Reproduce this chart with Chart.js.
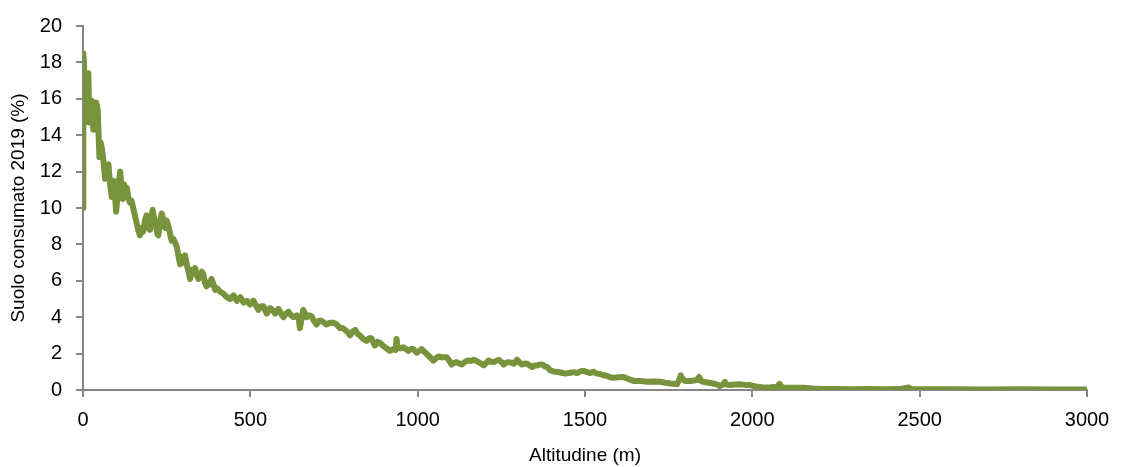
<!DOCTYPE html>
<html>
<head>
<meta charset="utf-8">
<script src="https://cdn.jsdelivr.net/npm/chart.js@4/dist/chart.umd.min.js"></script>
<style>
  html, body { margin: 0; padding: 0; background: #fff; }
  #grafico { display: block; }
</style>
</head>
<body>
<canvas id="grafico" width="1122" height="467"></canvas>
<script>
// --- DATI ---
const altitudini = [
  0, 1, 3, 6, 9, 13, 16, 19, 21, 26, 29, 31, 35, 39, 44, 47, 49, 53, 56, 61,
  66, 71, 76, 81, 86, 91, 95, 99, 103, 107, 111, 115, 119, 123, 127, 131, 136, 140, 145, 150,
  155, 160, 165, 170, 175, 180, 185, 190, 195, 200, 204, 208, 213, 218, 222, 225, 230, 235, 240, 245,
  250, 255, 260, 265, 270, 275, 280, 285, 290, 295, 300, 305, 310, 315, 320, 325, 330, 335, 340, 345,
  350, 355, 359, 364, 369, 374, 379, 384, 390, 395, 400, 410, 419, 430, 440, 450, 460, 470, 480, 490,
  499, 509, 518, 524, 532, 539, 549, 559, 566, 574, 584, 592, 599, 607, 614, 622, 629, 639, 645, 648,
  653, 658, 663, 668, 676, 683, 690, 698, 705, 713, 720, 728, 738, 748, 758, 768, 776, 783, 790, 798,
  805, 813, 820, 827, 838, 848, 855, 862, 872, 880, 887, 895, 902, 910, 917, 927, 934, 937, 940, 950,
  957, 965, 972, 980, 987, 997, 1005, 1012, 1020, 1027, 1037, 1047, 1055, 1062, 1070, 1077, 1087, 1095, 1101, 1110,
  1117, 1125, 1132, 1142, 1151, 1160, 1167, 1175, 1182, 1190, 1197, 1205, 1212, 1220, 1227, 1235, 1242, 1250, 1257, 1265,
  1272, 1280, 1287, 1292, 1297, 1305, 1312, 1320, 1327, 1335, 1342, 1350, 1357, 1365, 1372, 1380, 1387, 1395, 1401, 1410,
  1421, 1430, 1441, 1456, 1466, 1476, 1490, 1496, 1505, 1516, 1525, 1536, 1545, 1555, 1565, 1575, 1585, 1600, 1615, 1630,
  1645, 1665, 1685, 1705, 1725, 1740, 1755, 1775, 1781, 1786, 1792, 1798, 1818, 1835, 1841, 1847, 1853, 1870, 1883, 1895,
  1903, 1913, 1918, 1923, 1933, 1948, 1963, 1978, 1993, 2010, 2033, 2055, 2075, 2081, 2087, 2093, 2120, 2153, 2180, 2213,
  2250, 2300, 2350, 2400, 2440, 2466, 2475, 2520, 2600, 2700, 2800, 2900, 3000
];
const suoloConsumato = [
  10.0, 18.5, 18.0, 14.7, 15.3, 16.0, 17.4, 14.7, 15.2, 15.9, 14.8, 14.3, 15.2, 15.8, 15.4, 13.8, 12.8, 13.6, 13.3, 12.6,
  11.6, 12.2, 12.4, 11.3, 10.6, 11.5, 10.8, 9.8, 10.6, 11.4, 12.0, 11.2, 10.5, 11.3, 11.0, 11.1, 10.5, 10.3, 10.4, 10.0,
  9.6, 9.2, 8.8, 8.5, 8.9, 8.7, 9.3, 9.6, 9.0, 8.8, 9.4, 9.9, 9.4, 9.0, 8.6, 8.5, 9.2, 9.7, 9.4, 8.9,
  9.3, 9.0, 8.6, 8.2, 8.3, 8.1, 7.9, 7.4, 6.9, 7.3, 7.0, 7.4, 6.9, 6.5, 6.1, 6.6, 6.4, 6.7, 6.3, 6.1,
  6.3, 6.5, 6.4, 5.9, 5.7, 5.9, 5.8, 6.1, 5.8, 5.5, 5.6, 5.4, 5.3, 5.1, 5.0, 5.2, 4.9, 5.1, 4.8, 4.9,
  4.7, 4.9, 4.6, 4.4, 4.6, 4.6, 4.2, 4.5, 4.4, 4.2, 4.45, 4.2, 4.0, 4.2, 4.3, 4.1, 4.0, 4.1, 3.9, 3.4,
  3.9, 4.4, 4.2, 4.0, 4.1, 4.05, 3.8, 3.6, 3.8, 3.8, 3.7, 3.6, 3.7, 3.7, 3.6, 3.4, 3.4, 3.3, 3.2, 3.0,
  3.2, 3.3, 3.1, 3.0, 2.8, 2.7, 2.85, 2.85, 2.45, 2.65, 2.6, 2.45, 2.35, 2.25, 2.15, 2.25, 2.2, 2.8, 2.3, 2.3,
  2.35, 2.25, 2.15, 2.25, 2.25, 2.05, 2.15, 2.25, 2.1, 1.98, 1.8, 1.62, 1.75, 1.84, 1.8, 1.8, 1.8, 1.6, 1.4, 1.5,
  1.53, 1.45, 1.4, 1.55, 1.62, 1.6, 1.66, 1.6, 1.53, 1.45, 1.35, 1.5, 1.62, 1.55, 1.53, 1.6, 1.66, 1.55, 1.4, 1.5,
  1.53, 1.5, 1.44, 1.55, 1.66, 1.5, 1.4, 1.45, 1.44, 1.35, 1.26, 1.35, 1.35, 1.4, 1.4, 1.3, 1.26, 1.1, 1.05, 1.0,
  0.99, 0.95, 0.9, 0.95, 0.98, 0.93, 1.05, 1.05, 1.0, 0.93, 1.0, 0.9, 0.88, 0.81, 0.78, 0.7, 0.67, 0.7, 0.72, 0.6,
  0.5, 0.5, 0.45, 0.47, 0.45, 0.4, 0.36, 0.32, 0.55, 0.8, 0.6, 0.5, 0.5, 0.55, 0.72, 0.5, 0.45, 0.4, 0.36, 0.3,
  0.22, 0.3, 0.45, 0.3, 0.27, 0.3, 0.32, 0.28, 0.27, 0.2, 0.14, 0.15, 0.18, 0.34, 0.18, 0.14, 0.12, 0.13, 0.08, 0.05,
  0.06, 0.04, 0.05, 0.04, 0.05, 0.14, 0.05, 0.04, 0.04, 0.03, 0.04, 0.03, 0.03
];
const tickX = [0, 500, 1000, 1500, 2000, 2500, 3000];
const tickY = [0, 2, 4, 6, 8, 10, 12, 14, 16, 18, 20];

const grigio = '#868686';
const fontTick = { family: '"Liberation Sans", Arial, sans-serif', size: 20 };
const fontTitolo = { family: '"Liberation Sans", Arial, sans-serif', size: 19 };

const punti = altitudini.map((x, i) => ({ x: x, y: suoloConsumato[i] }));

new Chart(document.getElementById('grafico'), {
  type: 'line',
  data: {
    datasets: [{
      data: punti,
      borderColor: '#77933C',
      borderWidth: 6,
      pointRadius: 0,
      tension: 0,
      borderJoinStyle: 'round',
      borderCapStyle: 'round'
    }]
  },
  options: {
    responsive: false,
    animation: false,
    layout: { padding: { top: 20, right: 35, left: 0, bottom: 0 } },
    plugins: { legend: { display: false }, tooltip: { enabled: false } },
    scales: {
      x: {
        type: 'linear',
        min: 0, max: 3000,
        afterFit: s => { s.height = 77; },
        afterBuildTicks: s => { s.ticks = tickX.map(v => ({ value: v })); },
        border: { color: grigio, width: 2 },
        grid: { drawOnChartArea: false, color: grigio, lineWidth: 2, tickLength: 7 },
        ticks: { color: '#000', font: fontTick, padding: 11, maxRotation: 0, callback: v => String(v) },
        title: { display: true, text: 'Altitudine (m)', color: '#000', font: fontTitolo, padding: { top: 1, bottom: 0 } }
      },
      y: {
        min: 0, max: 20,
        afterFit: s => { s.width = 83; },
        afterBuildTicks: s => { s.ticks = tickY.map(v => ({ value: v })); },
        border: { color: grigio, width: 2 },
        grid: { drawOnChartArea: false, color: grigio, lineWidth: 2, tickLength: 7 },
        ticks: { color: '#000', font: fontTick, padding: 14, callback: v => String(v) },
        title: { display: true, text: 'Suolo consumato 2019 (%)', color: '#000', font: fontTitolo, padding: { top: 7, bottom: 0 } }
      }
    }
  }
});
</script>
</body>
</html>
